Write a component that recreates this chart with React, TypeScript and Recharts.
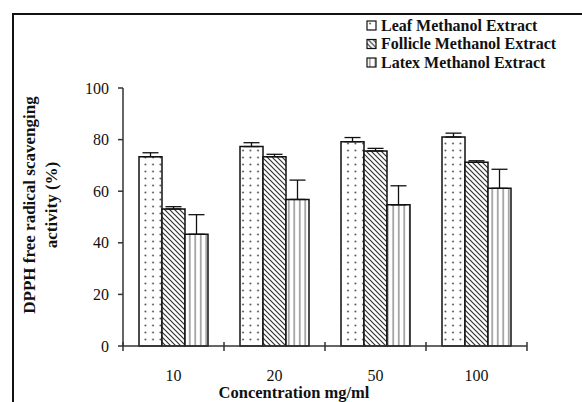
import React from 'react';
import { Bar, BarChart, ErrorBar, XAxis, YAxis } from 'recharts';

const concentrations = ['10', '20', '50', '100'];
const leafValues = [73.4, 77.3, 79.2, 81.0];
const leafErrors = [1.5, 1.5, 1.6, 1.5];
const follicleValues = [53.1, 73.4, 75.6, 71.2];
const follicleErrors = [0.9, 0.9, 1.0, 0.6];
const latexValues = [43.3, 56.8, 54.7, 61.1];
const latexErrors = [7.6, 7.5, 7.4, 7.4];
const yTicks = [0, 20, 40, 60, 80, 100];

const series = [
  { key: 'leaf', name: 'Leaf Methanol Extract', fill: 'url(#dots)' },
  { key: 'follicle', name: 'Follicle Methanol Extract', fill: 'url(#hatch)' },
  { key: 'latex', name: 'Latex Methanol Extract', fill: 'url(#stripes)' },
];

const data = concentrations.map((c, i) => ({
  name: c,
  leaf: leafValues[i],
  leafErr: [0, leafErrors[i]],
  follicle: follicleValues[i],
  follicleErr: [0, follicleErrors[i]],
  latex: latexValues[i],
  latexErr: [0, latexErrors[i]],
}));

const FONT = '"Liberation Serif", "Times New Roman", serif';
const BAND = 404 / concentrations.length;

const XTick = (props: any) => {
  const { x, y, payload, index } = props;
  return (
    <g>
      <line x1={x - BAND / 2} x2={x - BAND / 2} y1={y - 4} y2={y + 5} stroke="#333" strokeWidth={1.5} />
      {index === concentrations.length - 1 && (
        <line x1={x + BAND / 2} x2={x + BAND / 2} y1={y - 4} y2={y + 5} stroke="#333" strokeWidth={1.5} />
      )}
      <text x={x} y={y + 35} textAnchor="middle" fontSize={16} fontFamily={FONT} fill="#111">
        {payload.value}
      </text>
    </g>
  );
};

const App = () => {
  return (
    <div style={{ position: 'absolute', left: 0, top: 0, width: 582, height: 402, overflow: 'hidden', background: '#fff' }}>
      <div
        style={{
          position: 'absolute',
          left: 12,
          top: 13,
          width: 700,
          height: 500,
          borderLeft: '2px solid #111',
          borderTop: '2px solid #111',
        }}
      />
      <BarChart
        width={582}
        height={402}
        data={data}
        margin={{ top: 88, right: 55, left: 83, bottom: 0 }}
        barCategoryGap={16}
        barGap={0}
        style={{ position: 'absolute', left: 0, top: 0 }}
      >
        <defs>
          <pattern id="dots" width="7.5" height="7" patternUnits="userSpaceOnUse">
            <rect width="7.5" height="7" fill="#fff" />
            <circle cx="3" cy="3.5" r="0.9" fill="#444" />
          </pattern>
          <pattern id="hatch" width="5" height="5" patternUnits="userSpaceOnUse">
            <rect width="5" height="5" fill="#fff" />
            <path d="M-1,-1 L6,6 M-1,4 L1,6 M4,-1 L6,1" stroke="#333" strokeWidth="1.2" />
          </pattern>
          <pattern id="stripes" width="5.5" height="5" patternUnits="userSpaceOnUse">
            <rect width="5.5" height="5" fill="#fff" />
            <line x1="2.75" x2="2.75" y1="0" y2="5" stroke="#999" strokeWidth="1.6" />
          </pattern>
        </defs>
        <XAxis
          dataKey="name"
          height={56}
          axisLine={{ stroke: '#333', strokeWidth: 1.5 }}
          tickLine={false}
          tickSize={0}
          tickMargin={0}
          tick={<XTick />}
          interval={0}
        />
        <YAxis
          width={40}
          domain={[0, 100]}
          ticks={yTicks}
          interval={0}
          axisLine={{ stroke: '#333', strokeWidth: 1.5 }}
          tickLine={{ stroke: '#333', strokeWidth: 1.5 }}
          tickSize={5}
          tickMargin={9}
          tick={{ fontSize: 16, fontFamily: FONT, fill: '#111' }}
        />
        {series.map((s) => (
          <Bar
            key={s.key}
            dataKey={s.key}
            name={s.name}
            fill={s.fill}
            stroke="#111"
            strokeWidth={1.5}
            isAnimationActive={false}
          >
            <ErrorBar dataKey={`${s.key}Err`} width={8} stroke="#111" strokeWidth={1.3} direction="y" />
          </Bar>
        ))}
      </BarChart>
      <svg width={582} height={402} style={{ position: 'absolute', left: 0, top: 0, pointerEvents: 'none' }}>
        <g transform="translate(35,205) rotate(-90)">
          <text x={0} y={0} textAnchor="middle" fontSize={17} fontWeight="bold" fontFamily={FONT} fill="#111">
            DPPH free radical scavenging
          </text>
          <text x={0} y={22} textAnchor="middle" fontSize={17} fontWeight="bold" fontFamily={FONT} fill="#111">
            activity (%)
          </text>
        </g>
        <text x={294} y={398} textAnchor="middle" fontSize={16.5} fontWeight="bold" fontFamily={FONT} fill="#111">
          Concentration mg/ml
        </text>
        {series.map((s, i) => (
          <g key={s.key} transform={`translate(367,${20 + i * 18.5})`}>
            <rect x={0} y={1} width={9} height={9} fill={s.fill} stroke="#111" strokeWidth={1.2} />
            <text x={14} y={10.5} fontSize={16} fontWeight="bold" fontFamily={FONT} fill="#111">
              {s.name}
            </text>
          </g>
        ))}
      </svg>
    </div>
  );
};

export default App;
